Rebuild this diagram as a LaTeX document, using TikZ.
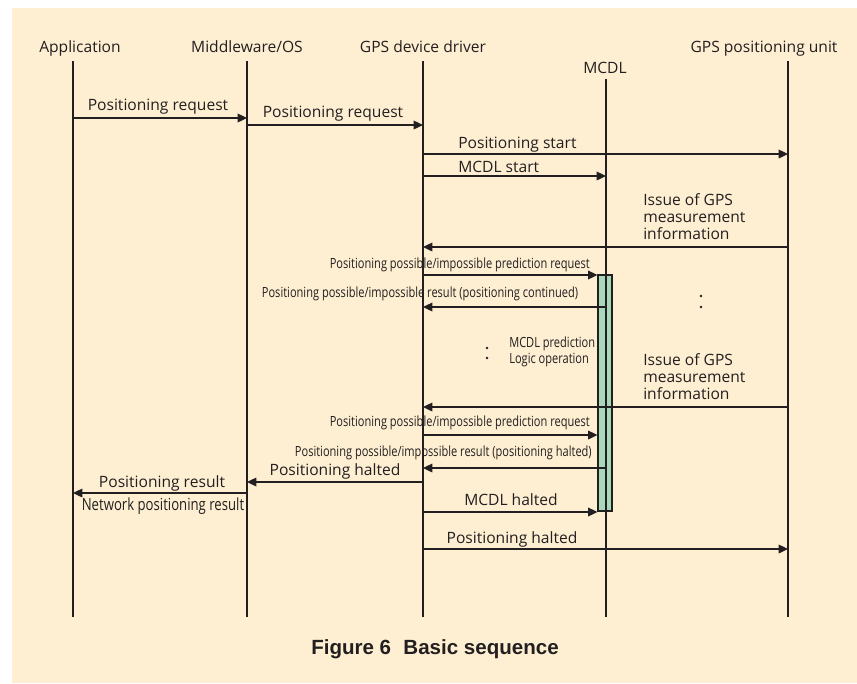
\documentclass[tikz,border=0pt]{standalone}
\usepackage{fontspec}
\setmainfont{Open Sans}
\newfontfamily\condfont[FakeStretch=0.79]{Open Sans}
\newfontfamily\titlefont{Liberation Sans}
\usetikzlibrary{arrows.meta,calc,positioning}
\definecolor{creambg}{RGB}{254,239,210}
\definecolor{greenact}{RGB}{168,216,188}
\definecolor{darkline}{RGB}{35,31,32}

\begin{document}
\begin{tikzpicture}[x=0.75pt,y=-0.75pt]

          \tikzstyle{every node}=[inner sep=0pt,text=darkline]
          \tikzstyle{head}=[font=\fontsize{11.7}{14}\selectfont,anchor=base]
          \tikzstyle{lbl}=[font=\fontsize{11.7}{12.75}\selectfont,anchor=base]
          \tikzstyle{small}=[font=\condfont\fontsize{10.5}{12}\selectfont,anchor=base]
          \tikzstyle{life}=[draw=darkline,line width=0.8pt]
          \tikzstyle{msg}=[-{Triangle[length=7pt,width=6.5pt]},draw=darkline,line width=0.95pt]
          \tikzstyle{actbar}=[draw=darkline,fill=greenact,line width=0.8pt,minimum width=10.5pt,minimum height=177pt]

    % background
    \fill[white] (0,0) rectangle (857,683);
    \fill[creambg] (12,8) rectangle (857,683);

    % heads
    \node[head] (appname) at (80,52) {Application};
    \node[head] (mwname) at (247,52) {Middleware/OS};
    \node[head] (drvname) at (423,52) {GPS device driver};
    \node[head] (mcdlname) at (605,73) {MCDL};
    \node[head] (gpsname) at (764,52) {GPS positioning unit};

    \coordinate (app) at (73,61);
    \coordinate (mw) at (247,61);
    \coordinate (drv) at (423,61);
    \coordinate (mcdl) at (606,79);
    \coordinate (gps) at (788,61);

    % activation of MCDL
    \node[actbar] (act) at (605,393) {};

    \foreach \l in {app,mw,drv,mcdl,gps}
        \draw[life] (\l) -- (\l |- 0,617);

    % messages
    \draw[msg] (app |- 0,118) -- (mw |- 0,118);
    \node[lbl] (m1) at (158,110) {Positioning request};
    \draw[msg] (mw |- 0,125) -- (drv |- 0,125);
    \node[lbl] (m2) at (333,117) {Positioning request};
    \draw[msg] (drv |- 0,154) -- (gps |- 0,154);
    \node[lbl,anchor=base west] (m3) at (458,148) {Positioning start};
    \draw[msg] (drv |- 0,176) -- (mcdl |- 0,176);
    \node[lbl,anchor=base west] (m4) at (458,172) {MCDL start};
    \draw[msg] (gps |- 0,247) -- (drv |- 0,247);
    \node[lbl,anchor=north west,align=left] (m5) at (643,193) {Issue of GPS\\measurement\\information};
    \draw[msg] (drv |- 0,275) -- (act.west |- 0,275);
    \node[small,anchor=base east] (m6) at (590,268) {Positioning possible/impossible prediction request};
    \draw[msg] (mcdl |- 0,307) -- (drv |- 0,307);
    \node[small] (m7) at (420,297) {Positioning possible/impossible result (positioning continued)};

    \node[small,anchor=base west,align=left] (calc) at (509,363) {MCDL prediction\\Logic operation};
    \fill[darkline] (487,348) circle (1pt) (487,358) circle (1pt);
    \fill[darkline] (701,296) circle (1pt) (701,307) circle (1pt);

    \draw[msg] (gps |- 0,407) -- (drv |- 0,407);
    \node[lbl,anchor=north west,align=left] (m8) at (643,353) {Issue of GPS\\measurement\\information};
    \draw[msg] (drv |- 0,435) -- (act.west |- 0,435);
    \node[small,anchor=base east] (m9) at (590,426) {Positioning possible/impossible prediction request};
    \draw[msg] (mcdl |- 0,468) -- (drv |- 0,468);
    \node[small,anchor=base east] (m10) at (592,456) {Positioning possible/impossible result (positioning halted)};
    \draw[msg] (drv |- 0,482) -- (mw |- 0,482);
    \node[lbl] (m11) at (335,475) {Positioning halted};
    \draw[msg] (mw |- 0,493) -- (app |- 0,493);
    \node[lbl] (m12) at (162,487) {Positioning result};
    \node[small,font=\condfont\fontsize{12.5}{14}\selectfont] (m13) at (163,510) {Network positioning result};
    \draw[msg] (drv |- 0,512) -- (act.west |- 0,512);
    \node[lbl] (m14) at (511,505) {MCDL halted};
    \draw[msg] (drv |- 0,549) -- (gps |- 0,549);
    \node[lbl] (m15) at (512,543) {Positioning halted};

    % caption
    \node[anchor=base,font=\titlefont\bfseries\fontsize{15.4}{18}\selectfont] (cap) at (435,654) {Figure 6\hspace{0.6em}Basic sequence};

\end{tikzpicture}
\end{document}
